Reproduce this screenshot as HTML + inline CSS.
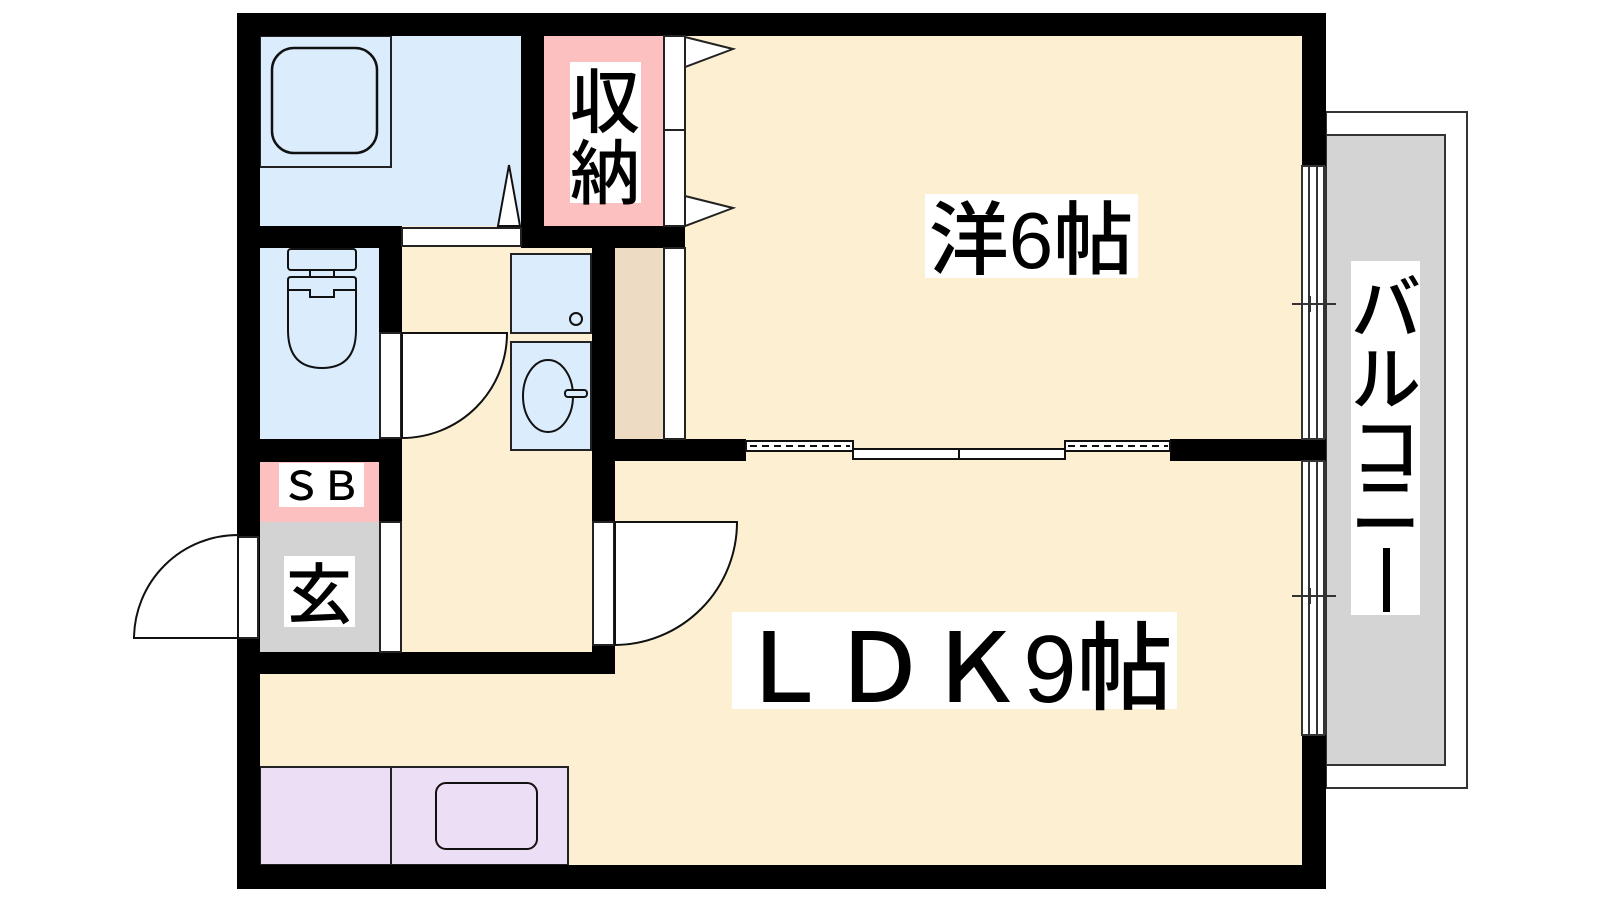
<!DOCTYPE html>
<html><head><meta charset="utf-8"><style>
html,body{margin:0;padding:0;background:#fff;width:1600px;height:900px;overflow:hidden}
text{font-family:"Liberation Sans","Noto Sans CJK JP",sans-serif;fill:#000;font-weight:500}
</style></head><body>
<svg width="1600" height="900" viewBox="0 0 1600 900" xmlns="http://www.w3.org/2000/svg">
<!-- balcony -->
<rect x="1326" y="112" width="141" height="676" fill="#fff" stroke="#333" stroke-width="2"/>
<rect x="1326" y="135" width="119" height="630" fill="#d4d4d4" stroke="#333" stroke-width="2"/>
<!-- floors -->
<rect x="260" y="36" width="1042" height="829" fill="#fdf0d2"/>
<rect x="260" y="36" width="261" height="190" fill="#dbecfd"/>
<rect x="544" y="36" width="120" height="190" fill="#fdc0c0"/>
<rect x="260" y="248" width="119" height="191" fill="#dbecfd"/>
<rect x="615" y="248" width="49" height="191" fill="#eddcc3"/>
<rect x="260" y="461" width="119" height="61" fill="#fdc0c0"/>
<rect x="260" y="522" width="119" height="130" fill="#d3d3d3"/>
<!-- bath tub -->
<rect x="260" y="36" width="131" height="131" fill="none" stroke="#222" stroke-width="2"/>
<rect x="272" y="48" width="105" height="105" rx="22" fill="none" stroke="#111" stroke-width="2.5"/>
<polygon points="498,226 509,165 520,226" fill="#fff" stroke="#111" stroke-width="2"/>
<!-- toilet -->
<rect x="288" y="249" width="68" height="21" rx="3" fill="#dbecfd" stroke="#111" stroke-width="2"/>
<rect x="310" y="270" width="24" height="7" fill="#dbecfd" stroke="#111" stroke-width="2"/>
<path d="M288,280 Q288,277 291,277 L353,277 Q356,277 356,280 L356,330 Q356,368 322,368 Q288,368 288,330 Z" fill="#dbecfd" stroke="#111" stroke-width="2"/>
<path d="M288,290 L310,290 L310,297 L334,297 L334,290 L356,290" fill="none" stroke="#111" stroke-width="2"/>
<!-- washer & sink -->
<rect x="511" y="254" width="80" height="79" fill="#dbecfd" stroke="#222" stroke-width="2"/>
<circle cx="576" cy="319" r="6" fill="none" stroke="#111" stroke-width="2"/>
<rect x="511" y="342" width="80" height="108" fill="#dbecfd" stroke="#222" stroke-width="2"/>
<ellipse cx="548" cy="396" rx="25" ry="36" fill="none" stroke="#111" stroke-width="2"/>
<rect x="565" y="390" width="22" height="7" rx="3" fill="#dbecfd" stroke="#111" stroke-width="2"/>
<!-- kitchen -->
<rect x="260" y="767" width="308" height="98" fill="#ecdef4" stroke="#222" stroke-width="2"/>
<line x1="391" y1="767" x2="391" y2="865" stroke="#222" stroke-width="2"/>
<rect x="436" y="783" width="101" height="66" rx="10" fill="none" stroke="#111" stroke-width="2"/>
<!-- walls -->
<g fill="#000">
<rect x="237" y="13" width="1089" height="23"/>
<rect x="237" y="13" width="23" height="876"/>
<rect x="237" y="865" width="1089" height="24"/>
<rect x="1302" y="13" width="24" height="153"/>
<rect x="1302" y="735" width="24" height="154"/>
<rect x="1302" y="439" width="24" height="22"/>
<rect x="521" y="13" width="23" height="235"/>
<rect x="237" y="226" width="165" height="22"/>
<rect x="521" y="226" width="164" height="22"/>
<rect x="379" y="226" width="23" height="107"/>
<rect x="237" y="439" width="165" height="23"/>
<rect x="379" y="439" width="23" height="83"/>
<rect x="237" y="652" width="377" height="22"/>
<rect x="592" y="248" width="23" height="274"/>
<rect x="592" y="645" width="23" height="29"/>
<rect x="592" y="439" width="154" height="22"/>
<rect x="1170" y="439" width="132" height="22"/>
</g>
<!-- bath door sill -->
<rect x="402" y="228" width="119" height="18" fill="#fff" stroke="#222" stroke-width="2"/>
<!-- closet door strips -->
<g fill="#fff" stroke="#222" stroke-width="2">
<rect x="664" y="36" width="21" height="94"/>
<rect x="664" y="130" width="21" height="96"/>
<rect x="664" y="248" width="21" height="191"/>
<polygon points="685,37 733,49 685,67"/>
<polygon points="685,196 733,208 685,226"/>
</g>
<!-- toilet door -->
<rect x="380" y="333" width="21" height="105" fill="#fff" stroke="#222" stroke-width="2"/>
<path d="M402,333 L507,333 A105,105 0 0 1 402,438 Z" fill="#fff" stroke="#111" stroke-width="2"/>
<!-- hall side jamb -->
<rect x="380" y="522" width="21" height="130" fill="#fff" stroke="#222" stroke-width="2"/>
<!-- LDK door -->
<rect x="593" y="522" width="21" height="123" fill="#fff" stroke="#222" stroke-width="2"/>
<path d="M615,522 L737,522 A123,123 0 0 1 615,645 Z" fill="#fff" stroke="#111" stroke-width="2"/>
<!-- entry door -->
<rect x="238" y="537" width="20" height="101" fill="#fff" stroke="#222" stroke-width="2"/>
<path d="M238,638 L134,638 A104,104 0 0 1 238,535 Z" fill="#fff" stroke="#111" stroke-width="2"/>
<!-- sliding doors mid wall -->
<g stroke="#111" stroke-width="2">
<rect x="746" y="441" width="107" height="10" fill="#fff"/>
<rect x="1065" y="441" width="105" height="10" fill="#fff"/>
<line x1="750" y1="446" x2="850" y2="446" stroke-dasharray="7,5"/>
<line x1="1068" y1="446" x2="1168" y2="446" stroke-dasharray="7,5"/>
<rect x="853" y="449" width="106" height="10" fill="#fff"/>
<rect x="959" y="449" width="106" height="10" fill="#fff"/>
</g>
<!-- right windows -->
<g fill="#fff" stroke="#333" stroke-width="2">
<rect x="1302" y="166" width="22" height="273"/>
<rect x="1302" y="461" width="22" height="274"/>
</g>
<g stroke="#333" stroke-width="2">
<line x1="1309" y1="166" x2="1309" y2="439"/><line x1="1317" y1="166" x2="1317" y2="439"/>
<line x1="1309" y1="461" x2="1309" y2="735"/><line x1="1317" y1="461" x2="1317" y2="735"/>
<line x1="1292" y1="304" x2="1336" y2="304"/>
<line x1="1310" y1="296" x2="1310" y2="312"/>
<line x1="1292" y1="596" x2="1336" y2="596"/>
<line x1="1310" y1="588" x2="1310" y2="604"/>
</g>
<!-- labels -->
<rect x="570" y="62" width="71" height="141" fill="#fff"/>
<text x="605" y="127" font-size="70" text-anchor="middle">収</text>
<text x="605" y="198" font-size="70" text-anchor="middle">納</text>
<rect x="925" y="194" width="213" height="84" fill="#fff"/>
<text x="1031" y="268" font-size="80" text-anchor="middle">洋6帖</text>
<rect x="732" y="612" width="445" height="97" fill="#fff"/>
<text x="954" y="702" font-size="96" text-anchor="middle">ＬＤＫ9帖</text>
<rect x="279" y="463" width="85" height="44" fill="#fff"/>
<text x="321" y="500" font-size="40" text-anchor="middle">ＳＢ</text>
<rect x="284" y="556" width="71" height="71" fill="#fff"/>
<text x="319" y="618" font-size="66" text-anchor="middle">玄</text>
<rect x="1351" y="261" width="69" height="354" fill="#fff"/>
<text x="1386" y="333" font-size="70" text-anchor="middle">バ</text>
<text x="1386" y="404" font-size="70" text-anchor="middle">ル</text>
<text x="1386" y="474" font-size="70" text-anchor="middle">コ</text>
<text x="1386" y="530" font-size="70" text-anchor="middle">ニ</text>
<rect x="1383" y="548" width="7" height="64" fill="#000"/>
</svg>
</body></html>
